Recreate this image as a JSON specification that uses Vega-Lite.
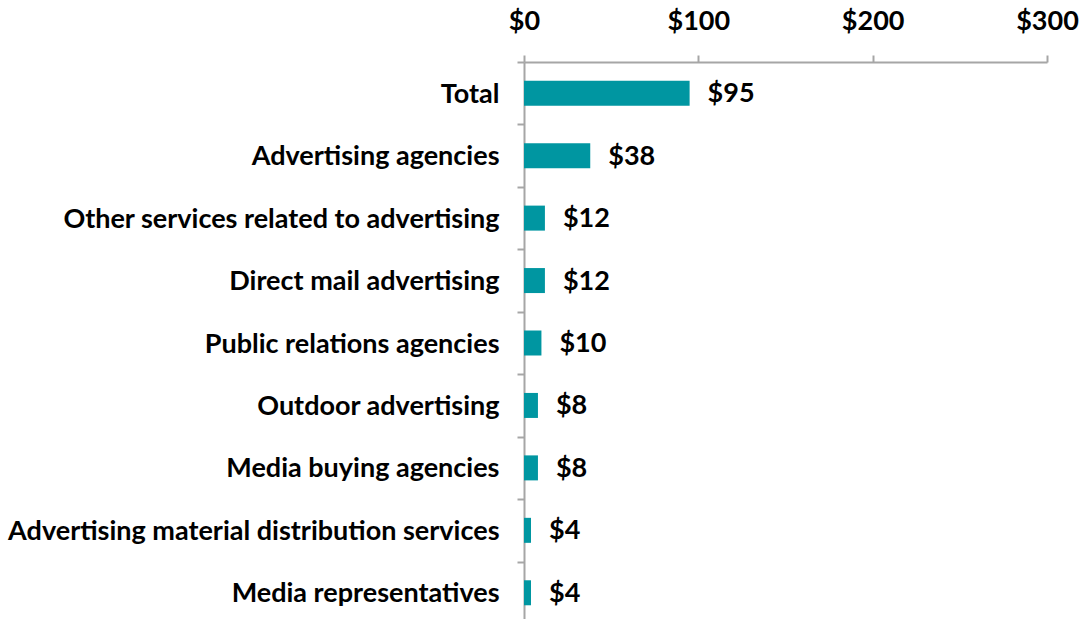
{
  "$schema": "https://vega.github.io/schema/vega-lite/v6.json",
  "autosize": {"type": "none"},
  "padding": {"left": 524, "top": 62, "right": 33, "bottom": 0},
  "width": 523,
  "height": 562,
  "background": "white",
  "config": {"view": {"stroke": null}, "font": "Lato"},
  "data": {"values": [
    {"category": "Total", "value": 95},
    {"category": "Advertising agencies", "value": 38},
    {"category": "Other services related to advertising", "value": 12},
    {"category": "Direct mail advertising", "value": 12},
    {"category": "Public relations agencies", "value": 10},
    {"category": "Outdoor advertising", "value": 8},
    {"category": "Media buying agencies", "value": 8},
    {"category": "Advertising material distribution services", "value": 4},
    {"category": "Media representatives", "value": 4}
  ]},
  "encoding": {
    "y": {"field": "category", "type": "nominal", "sort": null,
      "scale": {"paddingInner": 0, "paddingOuter": 0},
      "axis": {"title": null, "domainColor": "#A6A6A6", "domainWidth": 2, "tickColor": "#A6A6A6", "tickWidth": 2, "tickSize": 7, "tickBand": "extent",
        "labelFont": "Lato", "labelFontWeight": "bold", "labelFontSize": 27, "labelColor": "#000000", "labelPadding": 18, "labelLimit": 700, "labelOffset": 1}},
    "x": {"field": "value", "type": "quantitative",
      "scale": {"domain": [0, 300], "nice": false},
      "axis": {"orient": "top", "title": null, "values": [0, 100, 200, 300], "format": "$,.0f", "grid": false,
        "domainColor": "#A6A6A6", "domainWidth": 2, "tickColor": "#A6A6A6", "tickWidth": 2, "tickSize": 7,
        "labelFont": "Lato", "labelFontWeight": "bold", "labelFontSize": 27, "labelColor": "#000000", "labelPadding": 20, "labelFlush": false}}
  },
  "layer": [
    {"mark": {"type": "bar", "color": "#0096A1", "size": 25}},
    {"mark": {"type": "text", "align": "left", "baseline": "middle", "dx": 18, "dy": 1, "font": "Lato", "fontWeight": "bold", "fontSize": 27, "color": "#000000"},
     "encoding": {"text": {"field": "value", "type": "quantitative", "format": "$,.0f"}}}
  ]
}
